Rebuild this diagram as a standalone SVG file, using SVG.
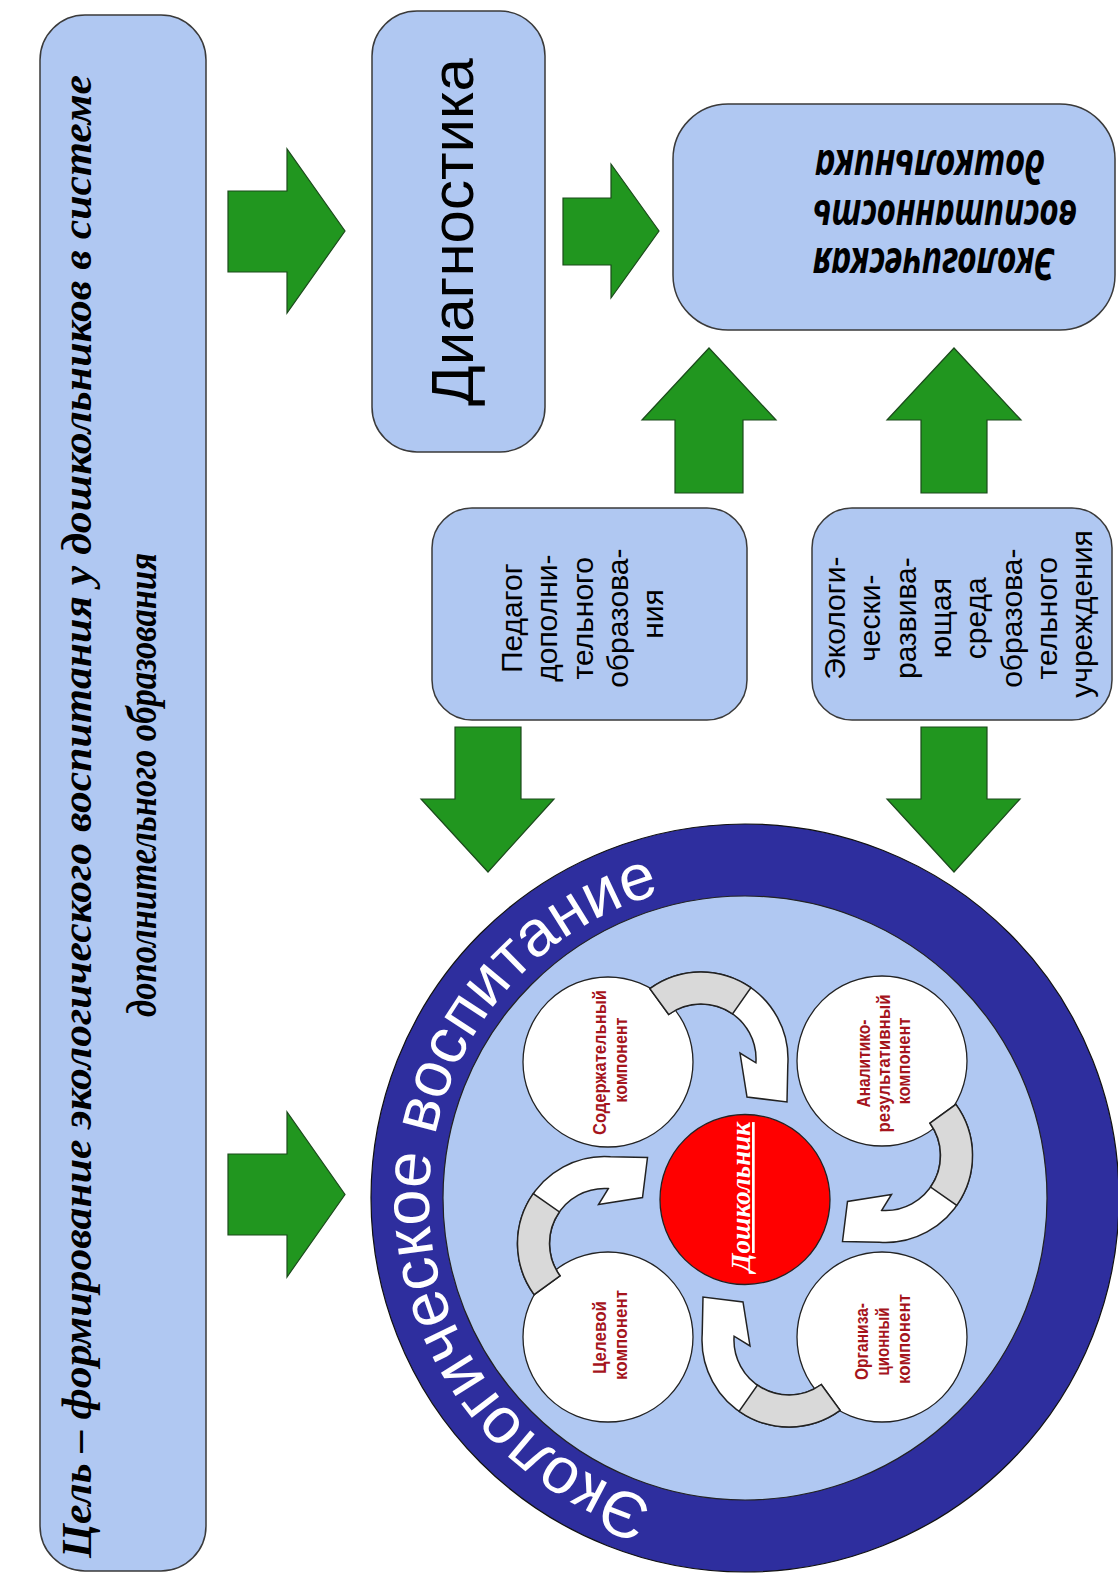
<svg xmlns="http://www.w3.org/2000/svg" xmlns:xlink="http://www.w3.org/1999/xlink" width="1118" height="1579" viewBox="0 0 1118 1579">
<style>
.box{fill:#b0c8f2;stroke:#3a3a3a;stroke-width:1.5}
.garrow{fill:#21961f;stroke:#1b4a1b;stroke-width:1.2;stroke-linejoin:miter}
.comp{fill:#ffffff;stroke:#222222;stroke-width:1.3}
.sans{font-family:"Liberation Sans",Arial,sans-serif}
.btext{font-family:"Liberation Sans",Arial,sans-serif;font-size:30px;fill:#000}
.ctext{font-family:"Liberation Sans",Arial,sans-serif;font-size:18px;font-weight:bold;fill:#a5141c}
.goal{font-family:"Liberation Serif","Times New Roman",serif;font-size:42px;font-weight:bold;font-style:italic;fill:#000}
.res{font-family:"Noto Sans","Open Sans","Liberation Sans",sans-serif;font-size:44px;font-weight:bold;font-style:italic;fill:#000}
.ring{font-family:"Liberation Sans",Arial,sans-serif;font-size:65px;fill:#ffffff}
.cw{fill:#ffffff;stroke:#222222;stroke-width:1.5;stroke-linejoin:miter}
.cg{fill:#d9d9d9;stroke:#222222;stroke-width:1.5}
</style>
<defs>
<path id="ringPath" d="M 745 1514 A 316 316 0 1 1 745 882"/>
<g id="carrow">
<path class="cw" d="M 649.9 988.6 A 87 87 0 0 1 787.8 1065 L 787 1102 L 747 1097 L 740 1053 L 755.9 1062.8 A 55 55 0 0 0 668.7 1014.5 Z"/>
<path class="cg" d="M 649.9 988.6 A 87 87 0 0 1 750.9 987.7 L 732.5 1013.9 A 55 55 0 0 0 668.7 1014.5 Z"/>
</g>
</defs>
<rect width="1118" height="1579" fill="#ffffff"/>

<g id="goal">
<rect class="box" x="40" y="15" width="166" height="1556" rx="45" ry="45"/>
<text class="goal" transform="translate(0 1558) rotate(-90)" x="0" y="91" textLength="1483" lengthAdjust="spacingAndGlyphs">Цель – формирование экологического воспитания у дошкольников в системе</text>
<text class="goal" transform="translate(0 1017) rotate(-90)" x="0" y="156" textLength="464" lengthAdjust="spacingAndGlyphs">дополнительного образования</text>
</g>

<g id="diagnostika">
<rect class="box" x="372" y="11" width="173" height="441" rx="45" ry="45"/>
<text class="sans" transform="translate(0 232) rotate(-90)" x="0" y="473" text-anchor="middle" font-size="60">Диагностика</text>
</g>

<g id="result">
<rect class="box" x="673" y="104" width="442" height="226" rx="55" ry="55"/>
<text class="res" transform="translate(934 248) rotate(180)" text-anchor="middle" textLength="242" lengthAdjust="spacingAndGlyphs">Экологическая</text>
<text class="res" transform="translate(945 200) rotate(180)" text-anchor="middle" textLength="264" lengthAdjust="spacingAndGlyphs">воспитанность</text>
<text class="res" transform="translate(930 150) rotate(180)" text-anchor="middle" textLength="230" lengthAdjust="spacingAndGlyphs">дошкольника</text>
</g>

<g id="pedagog">
<rect class="box" x="432" y="508" width="315" height="212" rx="40" ry="40"/>
<text class="btext" transform="translate(0 614) rotate(-90)" text-anchor="middle">
<tspan x="0" y="522">Педагог</tspan>
<tspan x="0" y="557">дополни-</tspan>
<tspan x="0" y="593">тельного</tspan>
<tspan x="0" y="628">образова-</tspan>
<tspan x="0" y="663">ния</tspan>
</text>
</g>

<g id="sreda">
<rect class="box" x="812" y="508" width="300" height="212" rx="40" ry="40"/>
<text class="btext" transform="translate(0 614) rotate(-90)" text-anchor="middle">
<tspan x="0" y="845">Экологи-</tspan>
<tspan x="0" y="880">чески-</tspan>
<tspan x="0" y="916">развива-</tspan>
<tspan x="0" y="951">ющая</tspan>
<tspan x="0" y="986">среда</tspan>
<tspan x="0" y="1022">образова-</tspan>
<tspan x="0" y="1057">тельного</tspan>
<tspan x="0" y="1092">учреждения</tspan>
</text>
</g>

<g id="vospitanie">
<circle cx="745" cy="1198" r="374" fill="#2e2e9e" stroke="#111111" stroke-width="1.2"/>
<circle cx="745" cy="1198" r="302" fill="#b0c8f2" stroke="#222222" stroke-width="1.2"/>
<text class="ring"><textPath xlink:href="#ringPath" href="#ringPath" startOffset="50.3%" text-anchor="middle">Экологическое воспитание</textPath></text>
</g>

<g id="soderzhatelny">
<circle class="comp" cx="608" cy="1062" r="85"/>
<text class="ctext" transform="translate(0 1060) rotate(-90)" text-anchor="middle">
<tspan x="0" y="606" textLength="145" lengthAdjust="spacingAndGlyphs">Содержательный</tspan>
<tspan x="0" y="627" textLength="85" lengthAdjust="spacingAndGlyphs">компонент</tspan>
</text>
</g>

<g id="analitiko">
<circle class="comp" cx="882" cy="1061" r="85"/>
<text class="ctext" transform="translate(0 1061) rotate(-90)" text-anchor="middle">
<tspan x="0" y="870" textLength="88" lengthAdjust="spacingAndGlyphs">Аналитико-</tspan>
<tspan x="0" y="890" textLength="138" lengthAdjust="spacingAndGlyphs">результативный</tspan>
<tspan x="0" y="910" textLength="87" lengthAdjust="spacingAndGlyphs">компонент</tspan>
</text>
</g>

<g id="celevoy">
<circle class="comp" cx="608" cy="1337" r="85"/>
<text class="ctext" transform="translate(0 1335) rotate(-90)" text-anchor="middle">
<tspan x="0" y="606" textLength="73" lengthAdjust="spacingAndGlyphs">Целевой</tspan>
<tspan x="0" y="627" textLength="90" lengthAdjust="spacingAndGlyphs">компонент</tspan>
</text>
</g>

<g id="organizacionny">
<circle class="comp" cx="882" cy="1337" r="85"/>
<text class="ctext" transform="translate(0 1339) rotate(-90)" text-anchor="middle">
<tspan x="0" y="868" textLength="77" lengthAdjust="spacingAndGlyphs">Организа-</tspan>
<tspan x="0" y="889" textLength="68" lengthAdjust="spacingAndGlyphs">ционный</tspan>
<tspan x="0" y="910" textLength="90" lengthAdjust="spacingAndGlyphs">компонент</tspan>
</text>
</g>

<g id="doshkolnik">
<circle cx="745" cy="1199.5" r="85" fill="#ff0000" stroke="#222222" stroke-width="1.3"/>
<text transform="translate(750 1197) rotate(-90)" text-anchor="middle" font-family="'Liberation Serif','Times New Roman',serif" font-size="27" font-weight="bold" font-style="italic" fill="#ffffff" text-decoration="underline">Дошкольник</text>
</g>

<g id="connectors">
<polygon class="garrow" points="228,191 287,191 287,149 345,231 287,313 287,272 228,272"/>
<polygon class="garrow" points="228,1154 287,1154 287,1112 345,1194.5 287,1277 287,1235 228,1235"/>
<polygon class="garrow" points="563,198 611,198 611,164 659,231 611,298 611,265 563,265"/>
<polygon class="garrow" points="675,493 675,420 642,420 709,348 776,420 743,420 743,493"/>
<polygon class="garrow" points="921,493 921,420 887,420 954,348 1021,420 987,420 987,493"/>
<polygon class="garrow" points="455,727 521,727 521,799 554,799 488,872 421,799 455,799"/>
<polygon class="garrow" points="921,727 987,727 987,799 1020,799 954,872 887,799 921,799"/>
<use xlink:href="#carrow" href="#carrow"/>
<use xlink:href="#carrow" href="#carrow" transform="rotate(90 745 1199.5)"/>
<use xlink:href="#carrow" href="#carrow" transform="rotate(180 745 1199.5)"/>
<use xlink:href="#carrow" href="#carrow" transform="rotate(270 745 1199.5)"/>
</g>
</svg>
